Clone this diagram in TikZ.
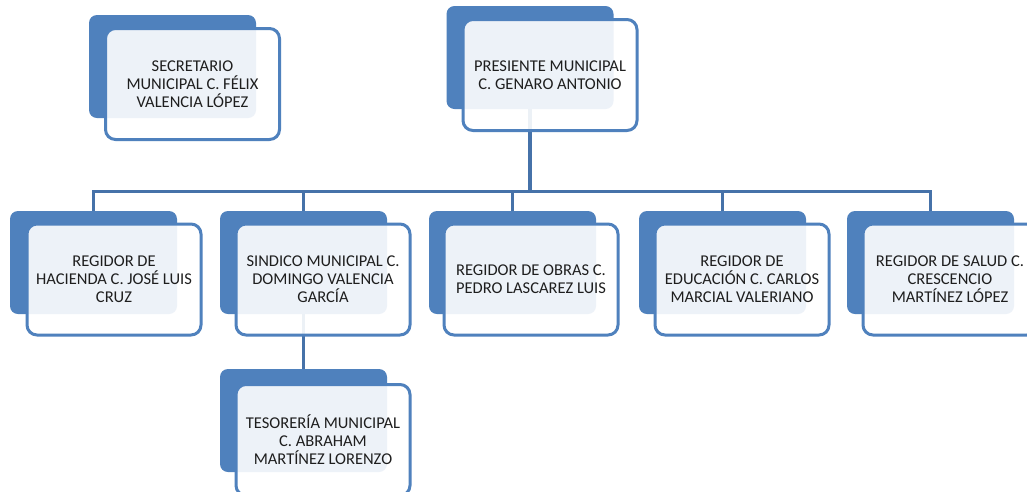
\documentclass[tikz,border=0pt]{standalone}
\usepackage{fontspec}
\setmainfont{Carlito}
\definecolor{boxblue}{HTML}{4F81BD}
\definecolor{linkblue}{HTML}{4672A9}
\definecolor{txt}{HTML}{1E1E1E}
\tikzset{
  backbox/.style={fill=boxblue, draw=none, rounded corners=8pt,
    minimum width=167pt, minimum height=103pt, inner sep=0pt},
  frontbox/.style={fill=white, fill opacity=0.9, text opacity=1, draw=boxblue,
    line width=3pt, rounded corners=10pt, minimum width=174pt, minimum height=111pt,
    inner sep=0pt, align=center, text=txt,
    font=\fontsize{16.5}{18}\selectfont},
  conn/.style={draw=linkblue, line width=3.2pt}
}
\begin{document}
\begin{tikzpicture}[x=1pt,y=-1pt]
\clip (0,0) rectangle (1027,491);
\fill[white] (0,0) rectangle (1027,491);
% back boxes
\node[backbox] (sb) at (172.5,66.5) {};
\node[backbox] (pb) at (530,57.5) {};
\node[backbox] (hb) at (93.5,262.5) {};
\node[backbox] (db) at (303.5,262.5) {};
\node[backbox] (ob) at (512.5,262.5) {};
\node[backbox] (eb) at (722.5,262.5) {};
\node[backbox] (lb) at (930.5,262.5) {};
\node[backbox] (tb) at (303.5,420.5) {};
% connectors
\draw[conn] (pb.south) -- ++(0,82) -| (hb.north);
\draw[conn] (pb.south) -- ++(0,82) -| (db.north);
\draw[conn] (pb.south) -- ++(0,82) -| (ob.north);
\draw[conn] (pb.south) -- ++(0,82) -| (eb.north);
\draw[conn] (pb.south) -- ++(0,82) -| (lb.north);
\draw[conn] (db.south) -- (tb.north);
% front boxes
\node[frontbox] (s) at (192.5,84) {SECRETARIO\\MUNICIPAL C. FÉLIX\\VALENCIA LÓPEZ};
\node[frontbox] (p) at (550,75) {PRESIENTE MUNICIPAL\\C. GENARO ANTONIO};
\node[frontbox] (h) at (114,279.5) {REGIDOR DE\\HACIENDA C. JOSÉ LUIS\\CRUZ};
\node[frontbox] (d) at (323,279.5) {SINDICO MUNICIPAL C.\\DOMINGO VALENCIA\\GARCÍA};
\node[frontbox] (o) at (531,279.5) {REGIDOR DE OBRAS C.\\PEDRO LASCAREZ LUIS};
\node[frontbox] (e) at (742,279.5) {REGIDOR DE\\EDUCACIÓN C. CARLOS\\MARCIAL VALERIANO};
\node[frontbox] (l) at (950,279.5) {REGIDOR DE SALUD C.\\CRESCENCIO\\MARTÍNEZ LÓPEZ};
\node[frontbox] (t) at (323,440) {TESORERÍA MUNICIPAL\\C. ABRAHAM\\MARTÍNEZ LORENZO};
\end{tikzpicture}
\end{document}
